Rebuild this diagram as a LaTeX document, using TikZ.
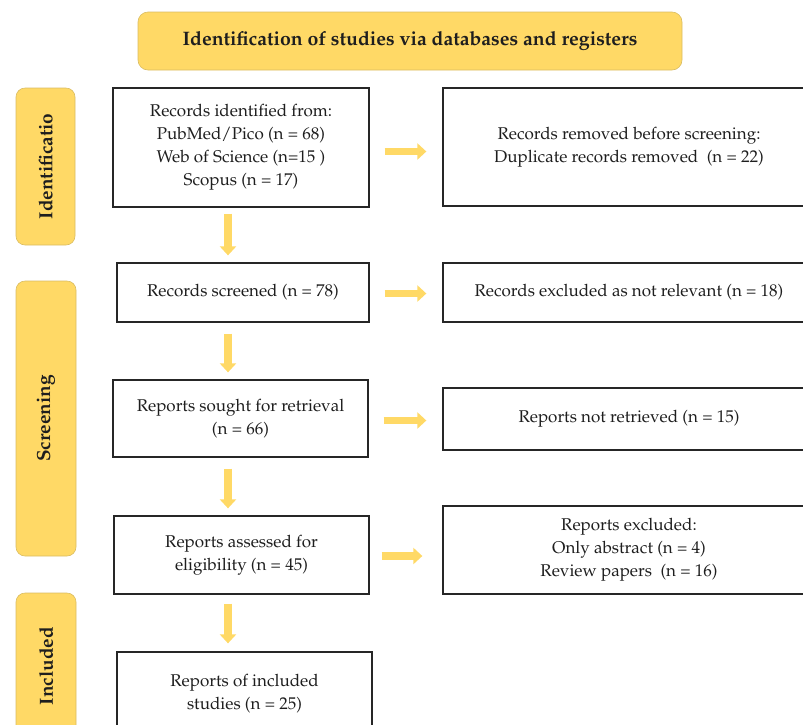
\documentclass[tikz,border=0pt]{standalone}
\usepackage[T1]{fontenc}
\usepackage{mathpazo}
\usetikzlibrary{arrows.meta, positioning}

\definecolor{prismaYellow}{HTML}{FFD966}
\definecolor{prismaEdge}{HTML}{D9BC62}
\definecolor{prismaText}{HTML}{1E1E1E}

\begin{document}
\begin{tikzpicture}[
        x=1pt, y=-1pt,
        every node/.style={align=center, inner sep=0pt, text=prismaText,
            font=\fontsize{17}{23}\selectfont},
        stagebox/.style={draw=black!85, line width=1.3pt, fill=white},
        sidebox/.style={draw=prismaEdge, line width=0.6pt, fill=prismaYellow,
            rounded corners=9pt, rotate=90,
            font=\fontsize{19}{22}\selectfont\bfseries},
        headbox/.style={draw=prismaEdge, line width=0.6pt, fill=prismaYellow,
            rounded corners=10pt, font=\fontsize{19.5}{22}\selectfont\bfseries},
        arrow/.style={-{Triangle[width=16pt, length=9pt]}, line width=7.5pt,
            prismaYellow}
        ]

        \useasboundingbox (0,0) rectangle (803,724);

        % Header and stages
        \node[headbox, minimum width=544, minimum height=58] (Header) at (410,41)
            {Identification of studies via databases and registers};
        \node[sidebox, minimum width=157, minimum height=59] (Stage_id) at (45.5,166.5) {Identificatio};
        \node[sidebox, minimum width=275, minimum height=60] (Stage_screen) at (46,418.5) {Screening};
        \node[sidebox, minimum width=146, minimum height=60] (Stage_incl) at (46,666) {Included};

        % Nodes
        \node[stagebox, minimum width=256, minimum height=119] (Records_id) at (241,147.5)
            {Records identified from:\\ PubMed/Pico (n = 68)\\ Web of Science (n=15 )\\ Scopus (n = 17)};
        \node[stagebox, minimum width=252, minimum height=59] (Records_screened) at (243,292.5)
            {Records screened (n = 78)};
        \node[stagebox, minimum width=255, minimum height=77] (Reports_sought) at (240.5,418.5)
            {Reports sought for retrieval\\ (n = 66)};
        \node[stagebox, minimum width=255, minimum height=78] (Reports_assessed) at (241.5,555)
            {Reports assessed for\\ eligibility (n = 45)};
        \node[stagebox, minimum width=255, minimum height=83] (Reports_incl) at (244.5,693.5)
            {Reports of included\\ studies (n = 25)};

        \node[stagebox, minimum width=372, minimum height=118] (Records_removed) at (629,147)
            {Records removed before screening:\\ Duplicate records removed~ (n = 22)};
        \node[stagebox, minimum width=372, minimum height=59] (Records_excl) at (629,292.5)
            {Records excluded as not relevant (n = 18)};
        \node[stagebox, minimum width=372, minimum height=62] (Reports_missing) at (629,419)
            {Reports not retrieved (n = 15)};
        \node[stagebox, minimum width=372, minimum height=88] (Reports_excl) at (629,550)
            {Reports excluded:\\ Only abstract (n = 4)\\ Review papers~ (n = 16)};

        \coordinate (Down_axis) at (228,0);

        \draw [arrow, shorten <=15pt, shorten >=16pt] ([yshift=-4pt]Records_id.east) -- ([yshift=-4pt]Records_id.east -| Records_removed.west);
        \draw [arrow, shorten <=15pt, shorten >=16pt] ([yshift=-1pt]Records_screened.east) -- ([yshift=-1pt]Records_screened.east -| Records_excl.west);
        \draw [arrow, shorten <=15pt, shorten >=16pt] ([yshift=-2pt]Reports_sought.east) -- ([yshift=-2pt]Reports_sought.east -| Reports_missing.west);
        \draw [arrow, shorten <=12pt, shorten >=20pt] ([yshift=-1pt]Reports_assessed.east) -- ([yshift=-1pt]Reports_assessed.east -| Reports_excl.west);

        \draw [arrow, shorten <=6pt, shorten >=7pt] (Records_id.south -| Down_axis) -- (Records_screened.north -| Down_axis);
        \draw [arrow, shorten <=11pt, shorten >=7pt] (Records_screened.south -| Down_axis) -- (Reports_sought.north -| Down_axis);
        \draw [arrow, shorten <=11pt, shorten >=7pt] (Reports_sought.south -| Down_axis) -- (Reports_assessed.north -| Down_axis);
        \draw [arrow, shorten <=9pt, shorten >=8pt] (Reports_assessed.south -| Down_axis) -- (Reports_incl.north -| Down_axis);

    \end{tikzpicture}
\end{document}
